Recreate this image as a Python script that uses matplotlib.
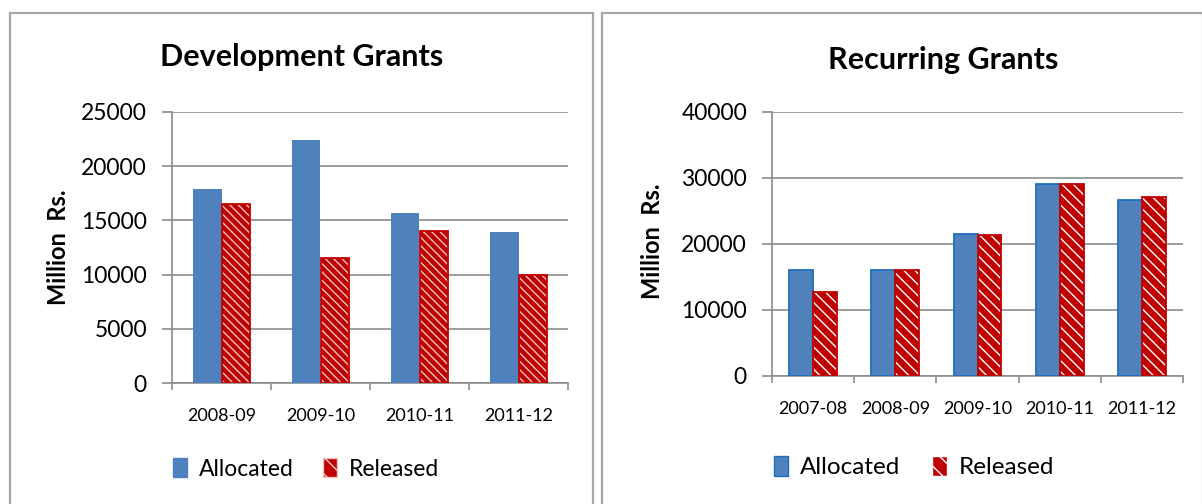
import matplotlib.pyplot as plt
from matplotlib.patches import Rectangle, Patch

plt.rcParams['font.family'] = ['Lato', 'DejaVu Sans']
plt.rcParams['hatch.linewidth'] = 1.0

# Development grants (Million Rs.)
dev_years = ['2008-09', '2009-10', '2010-11', '2011-12']
dev_allocated = [17900, 22400, 15700, 13900]
dev_released = [16500, 11500, 14000, 10000]

# Recurring grants (Million Rs.)
rec_years = ['2007-08', '2008-09', '2009-10', '2010-11', '2011-12']
rec_allocated = [16000, 16000, 21500, 29100, 26700]
rec_released = [12700, 16000, 21400, 29100, 27100]

blue = '#4F81BD'
red = '#C00000'
grid_col = '#8C8C8C'
box_col = '#A6A6A6'

W, H = 1202, 504
fig = plt.figure(figsize=(W / 100, H / 100), dpi=100)


def px(x0, y0, x1, y1):
    # pixel box (top-left origin) -> figure fraction rect
    return [x0 / W, 1 - y1 / H, (x1 - x0) / W, (y1 - y0) / H]


# panel frames
fig.patches.append(Rectangle((10 / W, -0.05), (593 - 10) / W, 0.05 + 1 - 13 / H,
                             transform=fig.transFigure, fill=False,
                             edgecolor=box_col, linewidth=1.6))
fig.patches.append(Rectangle((602 / W, -0.05), 0.5, 0.05 + 1 - 13 / H,
                             transform=fig.transFigure, fill=False,
                             edgecolor=box_col, linewidth=1.6))


def draw(ax, years, alloc, rel, ymax, step, hatch_col, hatch, blue_edge):
    n = len(years)
    x = list(range(n))
    w = 0.29
    xa = [i - w / 2 for i in x]
    xr = [i + w / 2 for i in x]
    if blue_edge:
        ax.bar(xa, alloc, w, color=blue, edgecolor='#1F6FC0', linewidth=1.3, zorder=3)
    else:
        ax.bar(xa, alloc, w, color=blue, linewidth=0, zorder=3)
    ax.bar(xr, rel, w, color=red, edgecolor=hatch_col, hatch=hatch, linewidth=0, zorder=3)
    ax.bar(xr, rel, w, fill=False, edgecolor=red, linewidth=1.3, zorder=4)

    ax.set_xlim(-0.5, n - 0.5)
    ax.set_ylim(0, ymax)
    ax.set_yticks(range(0, ymax + 1, step))
    ax.yaxis.grid(True, color=grid_col, linewidth=1.2, zorder=0)
    ax.set_axisbelow(True)
    for s in ['top', 'right']:
        ax.spines[s].set_visible(False)
    for s in ['left', 'bottom']:
        ax.spines[s].set_color(grid_col)
        ax.spines[s].set_linewidth(1.2)
    ax.set_xticks([i - 0.5 for i in range(n + 1)])
    ax.set_xticklabels([])
    ax.set_xticks(x, minor=True)
    ax.set_xticklabels(years, minor=True)
    ax.tick_params(axis='x', which='major', length=5, width=1.2, color=grid_col)
    ax.tick_params(axis='x', which='minor', length=0, pad=18, labelsize=13)
    ax.tick_params(axis='y', length=7, width=1.2, color=grid_col, pad=11, labelsize=16.5)
    ax.set_ylabel('Million  Rs.', fontsize=17, fontweight='bold')
    ax.yaxis.set_label_coords(-0.258, 0.5)


ax1 = fig.add_axes(px(172, 112, 568, 383))
draw(ax1, dev_years, dev_allocated, dev_released, 25000, 5000,
     '#F2C4C4', '\\' * 4, False)

ax2 = fig.add_axes(px(772, 112, 1183, 376))
draw(ax2, rec_years, rec_allocated, rec_released, 40000, 10000,
     'white', '\\' * 3, True)
ax2.yaxis.set_label_coords(-0.262, 0.51)

fig.text(302 / W, 1 - 57 / H, 'Development Grants', ha='center', va='center',
         fontsize=22, fontweight='bold')
fig.text(943 / W, 1 - 60 / H, 'Recurring Grants', ha='center', va='center',
         fontsize=22, fontweight='bold')

h_alloc = Patch(facecolor=blue, edgecolor=blue, label='Allocated')
h_rel1 = Patch(facecolor=red, edgecolor='#F2C4C4', hatch='\\' * 2, label='Released')
h_alloc2 = Patch(facecolor=blue, edgecolor='#1F6FC0', label='Allocated')
h_rel2 = Patch(facecolor=red, edgecolor='white', hatch='\\' * 2, label='Released')

fig.legend(handles=[h_alloc, h_rel1], loc='center', bbox_to_anchor=(306 / W, 1 - 469 / H),
           ncol=2, frameon=False, fontsize=16.5, handlelength=0.6, handleheight=0.9,
           handletextpad=0.5, columnspacing=1.3)
fig.legend(handles=[h_alloc2, h_rel2], loc='center', bbox_to_anchor=(914 / W, 1 - 467 / H),
           ncol=2, frameon=False, fontsize=17.5, handlelength=0.6, handleheight=0.9,
           handletextpad=0.5, columnspacing=1.3)

fig.savefig('out.png', dpi=100)
